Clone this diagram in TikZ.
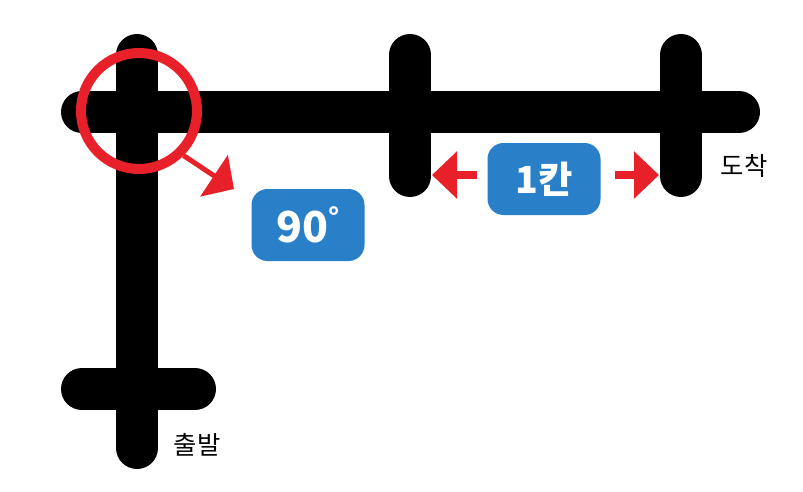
\documentclass[tikz,border=0pt]{standalone}
\usepackage{fontspec}
\newfontfamily\kr{Noto Sans CJK KR}
\usetikzlibrary{arrows.meta}
\definecolor{boxblue}{HTML}{2A7FC9}
\definecolor{markred}{HTML}{E8202A}
\tikzset{
  road/.style={line width=31.5pt, line cap=round},
  redarrow/.style={draw=markred, line width=6pt, -{Triangle[length=18.75pt, width=34.5pt]}},
  badge/.style={fill=boxblue, rounded corners=12pt, minimum width=84.75pt, minimum height=54pt, text=white, font=\kr\bfseries},
}
\begin{document}
\begin{tikzpicture}[x=0.75pt, y=-0.75pt]
        \useasboundingbox (0,0) rectangle (803,492);
        \coordinate (Ct) at (137,55);
        \coordinate (Cb) at (137,448);
        \coordinate (Hl) at (82,112);
        \coordinate (Hr) at (739,112);
        \coordinate (Sl) at (82,389);
        \coordinate (Sr) at (195,389);
        \coordinate (Mt) at (410,55);
        \coordinate (Mb) at (410,176);
        \coordinate (Gt) at (681,55);
        \coordinate (Gb) at (681,176);
        \coordinate (T) at (234,189);
        \coordinate (Ml) at (432,175);
        \coordinate (Gr) at (659,175);

        \draw[road] (Ct) -- (Cb);
        \draw[road] (Hl) -- (Hr);
        \draw[road] (Sl) -- (Sr);
        \draw[road] (Mt) -- (Mb);
        \draw[road] (Gt) -- (Gb);

        \node[circle, draw=markred, line width=7.5pt, minimum size=87pt, inner sep=0pt] (ring) at (139,111) {};
        \draw[redarrow, line width=3.75pt, -{Triangle[length=18pt, width=36.75pt]}] (ring.-45) -- (T);

        \node[badge, font=\kr\bfseries\fontsize{32}{32}\selectfont] (deg) at (308,225) {90\raisebox{11pt}{\fontsize{20}{20}\selectfont°}};
        \node[badge, font=\kr\bfseries\fontsize{28}{28}\selectfont] (kan) at (544,179) {1칸};
        \draw[redarrow] ([xshift=-7.5pt]kan.west |- Ml) -- (Ml);
        \draw[redarrow] ([xshift=10.5pt]kan.east |- Gr) -- (Gr);

        \node[font=\kr\fontsize{19}{19}\selectfont] (goal) at (744,166) {도착};
        \node[font=\kr\fontsize{19}{19}\selectfont] (start) at (197,445) {출발};

    \end{tikzpicture}
\end{document}
